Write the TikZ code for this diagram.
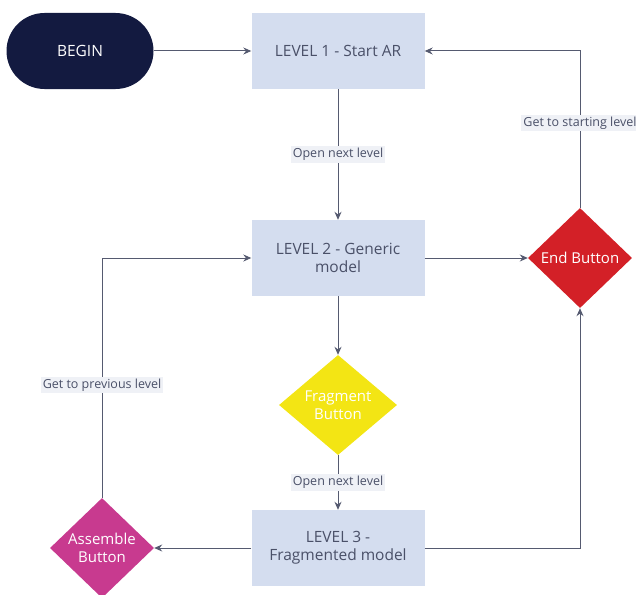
\documentclass[tikz,border=0pt]{standalone}
\usepackage{fontspec}
\setmainfont{Open Sans}
\usetikzlibrary{shapes.geometric,arrows.meta}
\definecolor{navy}{HTML}{131A40}
\definecolor{boxblue}{HTML}{D4DDEF}
\definecolor{txtgray}{HTML}{4A5068}
\definecolor{linegray}{HTML}{555A70}
\definecolor{endred}{HTML}{D32027}
\definecolor{fragyellow}{HTML}{F3E514}
\definecolor{asmpink}{HTML}{C83A8F}
\definecolor{lblbg}{HTML}{EFF1F6}
\begin{document}
\begin{tikzpicture}[x=1pt,y=-1pt,
  levelbox/.style={rectangle,fill=boxblue,minimum width=173pt,minimum height=76pt,inner sep=0pt,text=txtgray,font=\fontsize{15.5}{18}\selectfont,align=center},
  decision/.style={diamond,minimum width=104pt,minimum height=100pt,inner sep=0pt,text=white,font=\fontsize{15}{18}\selectfont,align=center},
  conn/.style={draw=linegray,line width=1pt,-{Stealth[length=8pt,width=7pt]}},
  lbl/.style={fill=lblbg,text=txtgray,inner sep=2pt,font=\fontsize{12.5}{14}\selectfont}
]
\useasboundingbox (0,0) rectangle (636,594);
\node[fill=navy,rounded corners=38pt,minimum width=147pt,minimum height=76pt,text=white,font=\fontsize{15.5}{18}\selectfont] (begin) at (80,51) {BEGIN};
\node[levelbox] (l1) at (338,51) {LEVEL 1 - Start AR};
\node[levelbox] (l2) at (338,258) {LEVEL 2 - Generic\\model};
\node[levelbox] (l3) at (338,548) {LEVEL 3 -\\Fragmented model};
\node[decision,fill=endred] (end) at (580,258) {End Button};
\node[decision,fill=fragyellow,minimum width=118pt] (frag) at (338,405) {Fragment\\Button};
\node[decision,fill=asmpink] (asm) at (102,548) {Assemble\\Button};

\draw[conn] (begin) -- (l1);
\draw[conn] (l1) -- node[lbl] {Open next level} (l2);
\draw[conn] (l2) -- (end);
\draw[conn] (l2) -- (frag);
\draw[conn] (frag) -- node[lbl] {Open next level} (l3);
\draw[conn] (l3) -- (asm);
\draw[conn] (asm.north) |- node[lbl,pos=0.235] {Get to previous level} (l2.west);
\draw[conn] (l3.east) -| (end.south);
\draw[conn] (end.north) |- node[lbl,pos=0.27] {Get to starting level} (l1.east);
\end{tikzpicture}
\end{document}
